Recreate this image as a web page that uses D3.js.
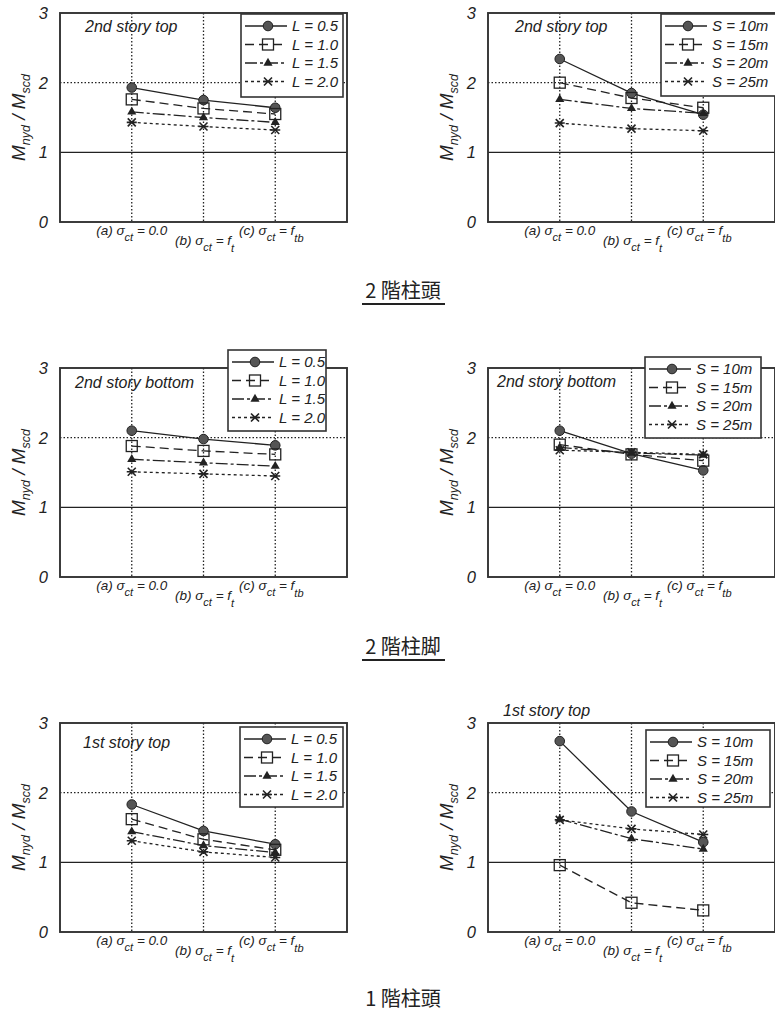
<!DOCTYPE html>
<html lang="ja">
<head>
<meta charset="utf-8">
<title>Mnyd / Mscd</title>
<script src="https://cdn.jsdelivr.net/npm/d3@7"></script>
<style>
  body { margin: 0; background: #fff; }
  text { font-family: "Liberation Sans", Arial, sans-serif; fill: #222; }
  .it { font-style: italic; }
  .jp { font-family: "Noto Sans CJK JP", sans-serif; }
</style>
</head>
<body>
<div id="chart"></div>
<script>
// x positions: (a), (b), (c)
const conditions = [1, 2, 3];
const yTicks = [0, 1, 2, 3];
const lNames = ["L = 0.5", "L = 1.0", "L = 1.5", "L = 2.0"];
const sNames = ["S = 10m", "S = 15m", "S = 20m", "S = 25m"];

// values, one row per series, columns (a) (b) (c)
const topL = [[1.93, 1.75, 1.64], [1.76, 1.63, 1.55], [1.58, 1.50, 1.43], [1.43, 1.37, 1.32]];
const topS = [[2.34, 1.85, 1.54], [2.00, 1.78, 1.64], [1.76, 1.63, 1.56], [1.42, 1.34, 1.31]];
const botL = [[2.10, 1.98, 1.89], [1.88, 1.81, 1.76], [1.69, 1.64, 1.59], [1.51, 1.48, 1.45]];
const botS = [[2.10, 1.77, 1.53], [1.90, 1.76, 1.67], [1.86, 1.78, 1.75], [1.82, 1.79, 1.76]];
const firstL = [[1.83, 1.45, 1.26], [1.62, 1.33, 1.18], [1.44, 1.24, 1.14], [1.31, 1.15, 1.07]];
const firstS = [[2.74, 1.73, 1.29], [0.96, 0.42, 0.31], [1.62, 1.34, 1.19], [1.61, 1.48, 1.40]];

const headings = ["2 階柱頭", "2 階柱脚", "1 階柱頭"];

const W = 287, H = 209;
const ink = "#222";
const dashes = [null, "9,5", "12,3,3,3", "3,3"];
const markers = ["circle", "square", "triangle", "star"];

const svg = d3.select("#chart").append("svg")
  .attr("width", 775).attr("height", 1014);

const x = d3.scaleLinear().domain([0, 4]).range([0, W]);
const y = d3.scaleLinear().domain([0, 3]).range([H, 0]);

function marker(g, type, cx, cy) {
  if (type == "circle") {
    g.append("circle").attr("cx", cx).attr("cy", cy).attr("r", 4.8)
      .attr("fill", "#555").attr("stroke", ink).attr("stroke-width", 1);
  } else if (type == "square") {
    g.append("rect").attr("x", cx - 5.5).attr("y", cy - 5.5).attr("width", 11).attr("height", 11)
      .attr("fill", "none").attr("stroke", ink).attr("stroke-width", 1.3);
  } else if (type == "triangle") {
    g.append("path").attr("transform", `translate(${cx},${cy})`)
      .attr("d", d3.symbol(d3.symbolTriangle, 36)()).attr("fill", ink);
  } else {
    g.append("path")
      .attr("d", `M${cx-4},${cy-4}L${cx+4},${cy+4}M${cx-4},${cy+4}L${cx+4},${cy-4}M${cx-5},${cy}L${cx+5},${cy}`)
      .attr("stroke", ink).attr("stroke-width", 1.6).attr("fill", "none");
  }
}

function panel(p) {
  const g = svg.append("g").attr("transform", `translate(${p.left},${p.top})`);

  // grid
  g.selectAll(".vg").data(conditions).join("line")
    .attr("x1", d => x(d)).attr("x2", d => x(d)).attr("y1", 0).attr("y2", H)
    .attr("stroke", ink).attr("stroke-width", 1.3).attr("stroke-dasharray", "1.5,2");
  g.append("line").attr("x1", 0).attr("x2", W).attr("y1", y(2)).attr("y2", y(2))
    .attr("stroke", ink).attr("stroke-width", 1.3).attr("stroke-dasharray", "1.5,2");
  g.append("line").attr("x1", 0).attr("x2", W).attr("y1", y(1)).attr("y2", y(1))
    .attr("stroke", ink).attr("stroke-width", 1.4);
  g.append("rect").attr("width", W).attr("height", H)
    .attr("fill", "none").attr("stroke", "#333").attr("stroke-width", 1.9);

  // y ticks
  g.selectAll(".yt").data(yTicks).join("text")
    .attr("class", "it").attr("x", -12).attr("y", d => y(d) + 6)
    .attr("text-anchor", "end").attr("font-size", 16.5).text(d => d);

  // y label
  const yl = g.append("text").attr("class", "it")
    .attr("transform", `translate(-35,${H / 2}) rotate(-90)`)
    .attr("text-anchor", "middle").attr("font-size", 19);
  yl.append("tspan").text("M");
  yl.append("tspan").attr("dy", 5).attr("font-size", 12.5).text("nyd");
  yl.append("tspan").attr("dy", -5).text(" / M");
  yl.append("tspan").attr("dy", 5).attr("font-size", 12.5).text("scd");

  // x labels
  const xl = [["(a) σ", "ct", " = 0.0", ""], ["(b) σ", "ct", " = f", "t"], ["(c) σ", "ct", " = f", "tb"]];
  const xoff = [0, 1, -4], yoff = [13, 23, 13];
  xl.forEach((parts, i) => {
    const t = g.append("text").attr("class", "it")
      .attr("x", x(conditions[i]) + xoff[i]).attr("y", H + yoff[i])
      .attr("text-anchor", "middle").attr("font-size", 13.5);
    t.append("tspan").text(parts[0]);
    t.append("tspan").attr("dy", 6).attr("font-size", 11).text(parts[1]);
    t.append("tspan").attr("dy", -6).text(parts[2]);
    if (parts[3]) t.append("tspan").attr("dy", 7).attr("font-size", 11).text(parts[3]);
  });

  // title
  g.append("text").attr("class", "it").attr("x", p.title[1]).attr("y", p.title[2])
    .attr("font-size", 16).text(p.title[0]);

  // series
  const line = d3.line().x((d, i) => x(conditions[i])).y(d => y(d));
  p.series.forEach((vals, k) => {
    g.append("path").attr("d", line(vals)).attr("fill", "none")
      .attr("stroke", ink).attr("stroke-width", 1.3)
      .attr("stroke-dasharray", dashes[k]);
  });
  p.series.forEach((vals, k) => {
    vals.forEach((v, i) => marker(g, markers[k], x(conditions[i]), y(v)));
  });

  // legend
  const [lx, ly, lw, lh] = p.legend;
  const lg = svg.append("g").attr("transform", `translate(${lx},${ly})`);
  lg.append("rect").attr("width", lw).attr("height", lh)
    .attr("fill", "#fff").attr("stroke", "#333").attr("stroke-width", 1.6);
  p.names.forEach((name, k) => {
    const ry = 12 + k * 18.5;
    lg.append("line").attr("x1", 4).attr("x2", 46).attr("y1", ry).attr("y2", ry)
      .attr("stroke", ink).attr("stroke-width", 1.3).attr("stroke-dasharray", dashes[k]);
    marker(lg, markers[k], 27, ry);
    lg.append("text").attr("class", "it").attr("x", 51).attr("y", ry + 5)
      .attr("font-size", 15).text(name);
  });
}

const panels = [
  { left: 60, top: 13, series: topL, names: lNames, title: ["2nd story top", 25, 19], legend: [241, 14, 102, 83] },
  { left: 488, top: 13, series: topS, names: sNames, title: ["2nd story top", 27, 19], legend: [661, 14, 118, 82] },
  { left: 60, top: 368, series: botL, names: lNames, title: ["2nd story bottom", 15, 20], legend: [228, 350, 98, 81] },
  { left: 488, top: 368, series: botS, names: sNames, title: ["2nd story bottom", 9, 19], legend: [645, 357, 116, 81] },
  { left: 60, top: 723, series: firstL, names: lNames, title: ["1st story top", 23, 25], legend: [240, 727, 103, 80] },
  { left: 488, top: 723, series: firstS, names: sNames, title: ["1st story top", 15, -7], legend: [646, 730, 124, 77] }
];
panels.forEach(panel);

// section headings
const hy = [298, 654, 1006];
headings.forEach((h, i) => {
  svg.append("text").attr("class", "jp").attr("x", 403).attr("y", hy[i])
    .attr("text-anchor", "middle").attr("font-size", 20).text(h);
  if (i < 2) {
    svg.append("line").attr("x1", 362).attr("x2", 445).attr("y1", hy[i] + 6).attr("y2", hy[i] + 6)
      .attr("stroke", ink).attr("stroke-width", 2);
  }
});
</script>
</body>
</html>
